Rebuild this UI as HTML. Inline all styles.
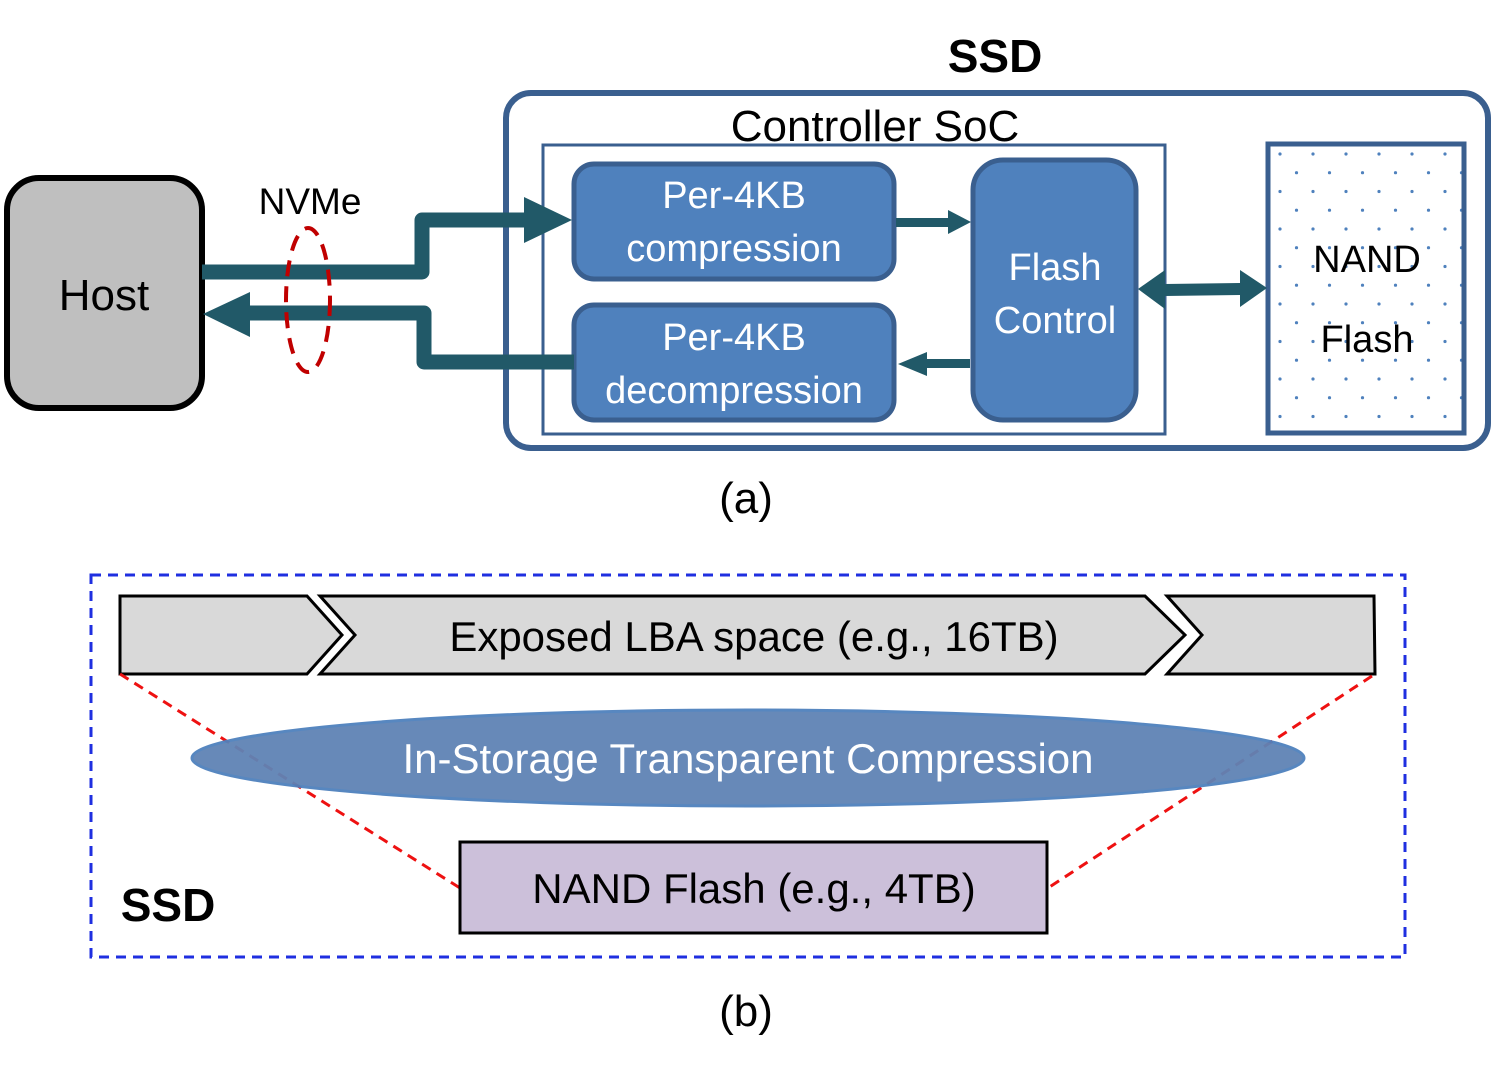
<!DOCTYPE html>
<html><head><meta charset="utf-8"><style>body{margin:0;background:#fff}svg{display:block}text{font-family:"Liberation Sans","DejaVu Sans",sans-serif}</style></head><body>
<svg width="1495" height="1077" viewBox="0 0 1495 1077" xmlns="http://www.w3.org/2000/svg">
<defs><pattern id="dots" width="33" height="37.5" patternUnits="userSpaceOnUse" x="1270" y="146"><circle cx="10" cy="8" r="1.6" fill="#4f81bd"/><circle cx="26.5" cy="26.7" r="1.6" fill="#4f81bd"/></pattern></defs>
<text x="995" y="72" font-size="46" font-weight="bold" text-anchor="middle">SSD</text>
<rect x="506" y="93" width="982" height="355" rx="25" fill="none" stroke="#3a5f8f" stroke-width="6"/>
<rect x="543" y="145" width="622" height="289" fill="none" stroke="#3a5f8f" stroke-width="3"/>
<text x="875" y="141" font-size="44" text-anchor="middle">Controller SoC</text>
<rect x="7" y="178" width="195" height="230" rx="32" fill="#bfbfbf" stroke="#000" stroke-width="6"/>
<text x="104" y="310" font-size="44" text-anchor="middle">Host</text>
<text x="310" y="214" font-size="37" text-anchor="middle">NVMe</text>
<rect x="574" y="164" width="320" height="115" rx="20" fill="#4f81bd" stroke="#3a5f8f" stroke-width="5"/>
<rect x="574" y="305" width="320" height="115" rx="20" fill="#4f81bd" stroke="#3a5f8f" stroke-width="5"/>
<rect x="973" y="160" width="163" height="260" rx="30" fill="#4f81bd" stroke="#3a5f8f" stroke-width="5"/>
<text fill="#fff" font-size="38" text-anchor="middle"><tspan x="734" y="208">Per-4KB</tspan><tspan x="734" y="261">compression</tspan><tspan x="734" y="350">Per-4KB</tspan><tspan x="734" y="403">decompression</tspan><tspan x="1055" y="280">Flash</tspan><tspan x="1055" y="333">Control</tspan></text>
<rect x="1268" y="144" width="196" height="289" fill="url(#dots)" stroke="#3a5f8f" stroke-width="5"/>
<text font-size="38" text-anchor="middle"><tspan x="1367" y="272">NAND</tspan><tspan x="1367" y="352">Flash</tspan></text>
<g fill="none" stroke="#215968" stroke-width="15" stroke-linejoin="round">
<polyline points="202,272 422,272 422,220 528,220"/>
<polyline points="574,362 424,362 424,313 246,313"/>
</g>
<g fill="#215968">
<polygon points="524,197 572,220 524,243"/>
<polygon points="250,292 203,314 250,337"/>
<rect x="896" y="218" width="54" height="9"/><polygon points="948,210 971,222 948,234"/>
<rect x="925" y="359" width="45" height="9"/><polygon points="927,352 898,364 927,376"/>
<polygon points="1138,289 1165,270 1165,284 1240,283 1240,270 1267,288 1240,307 1240,295 1165,296 1165,309"/>
</g>
<ellipse cx="308" cy="300" rx="22" ry="72" fill="none" stroke="#c00000" stroke-width="4" stroke-dasharray="16,10"/>
<text x="746" y="513" font-size="44" text-anchor="middle">(a)</text>
<rect x="91" y="575" width="1314" height="382" fill="none" stroke="#1f2fe0" stroke-width="3" stroke-dasharray="10,7"/>
<g fill="#d9d9d9" stroke="#000" stroke-width="3">
<polygon points="120,596 307,596 342,635 307,674 120,674"/>
<polygon points="320,596 1145,596 1185,635 1145,674 320,674 355,635"/>
<polygon points="1167,596 1374,596 1375,674 1167,674 1202,635"/>
</g>
<text x="754" y="651" font-size="42" text-anchor="middle">Exposed LBA space (e.g., 16TB)</text>
<g stroke="#ee1111" stroke-width="3" stroke-dasharray="10,7"><line x1="120" y1="674" x2="460" y2="888"/><line x1="1372" y1="676" x2="1048" y2="888"/></g>
<ellipse cx="748" cy="758" rx="556" ry="48" fill="#5f83b5" stroke="#4f81bd" stroke-width="3" opacity="0.95"/>
<text x="748" y="773" font-size="42" fill="#fff" text-anchor="middle">In-Storage Transparent Compression</text>
<rect x="460" y="842" width="587" height="91" fill="#ccc0da" stroke="#000" stroke-width="3"/>
<text x="754" y="903" font-size="42" text-anchor="middle">NAND Flash (e.g., 4TB)</text>
<text x="168" y="921" font-size="46" font-weight="bold" text-anchor="middle">SSD</text>
<text x="746" y="1026" font-size="44" text-anchor="middle">(b)</text>
</svg>
</body></html>
